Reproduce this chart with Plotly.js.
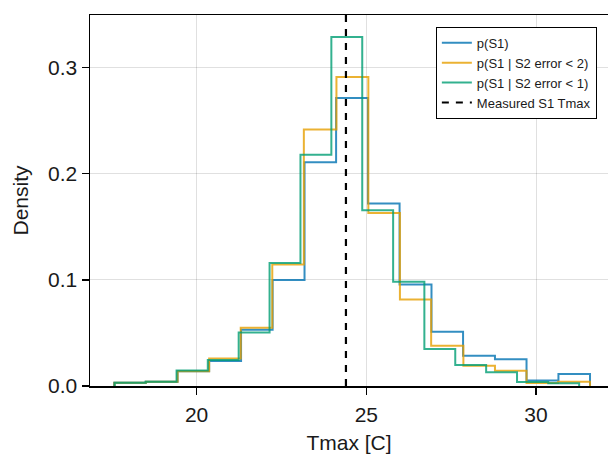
<!DOCTYPE html>
<html>
<head>
<meta charset="utf-8">
<script src="https://cdn.plot.ly/plotly-3.0.1.min.js"></script>
<style>
  html, body { margin: 0; padding: 0; background: #ffffff; overflow: hidden; }
  #chart { width: 608px; height: 456px; }
</style>
</head>
<body>
<div id="chart"></div>
<script>
// Histogram bin edges (Tmax, °C) for each sample set
const edgesS1 = [17.57, 18.50, 19.44, 20.37, 21.31, 22.24, 23.18, 24.11, 25.05, 25.98, 26.92, 27.85, 28.79, 29.72, 30.66, 31.59];
const edgesErr2 = [17.58, 18.51, 19.44, 20.37, 21.30, 22.23, 23.16, 24.12, 25.06, 25.99, 26.91, 27.86, 28.79, 29.72, 30.65, 31.59];
const edgesErr1 = [17.59, 18.50, 19.41, 20.33, 21.24, 22.15, 23.06, 23.97, 24.88, 25.79, 26.71, 27.62, 28.53, 29.44, 30.36, 31.27];

// Normalised densities per bin
const densityS1 = [0.003, 0.004, 0.014, 0.0235, 0.053, 0.100, 0.211, 0.2715, 0.172, 0.0957, 0.0512, 0.0286, 0.0251, 0.0053, 0.0113];
const densityErr2 = [0.003, 0.004, 0.014, 0.026, 0.055, 0.1146, 0.2417, 0.2913, 0.163, 0.0816, 0.038, 0.019, 0.0144, 0.0028, 0.004];
const densityErr1 = [0.003, 0.004, 0.0145, 0.0245, 0.0505, 0.116, 0.218, 0.329, 0.1657, 0.0982, 0.0348, 0.0198, 0.0129, 0.0038, 0.0025];

const seriesNames = ['p(S1)', 'p(S1 | S2 error < 2)', 'p(S1 | S2 error < 1)'];
const measuredTmax = 24.4;
const measuredName = 'Measured S1 Tmax';

const xTicks = [20, 25, 30];
const yTicks = [0, 0.1, 0.2, 0.3];
const yTickText = ['0.0', '0.1', '0.2', '0.3'];

const colors = ['rgba(0,114,178,0.8)', 'rgba(230,159,0,0.8)', 'rgba(0,158,115,0.8)'];

// Turn bin edges + densities into a closed step outline (hv line shape)
function stairs(edges, dens) {
  const x = [edges[0]];
  const y = [0];
  for (let i = 0; i < dens.length; i++) {
    x.push(edges[i]);
    y.push(dens[i]);
  }
  x.push(edges[edges.length - 1]);
  y.push(0);
  return { x, y };
}

const sets = [
  [edgesS1, densityS1],
  [edgesErr2, densityErr2],
  [edgesErr1, densityErr1]
];

const traces = sets.map(([e, d], i) => {
  const s = stairs(e, d);
  return {
    type: 'scatter',
    mode: 'lines',
    x: s.x,
    y: s.y,
    name: seriesNames[i],
    line: { shape: 'hv', color: colors[i], width: 2 },
    hoverinfo: 'skip'
  };
});

const gridColor = 'rgba(0,0,0,0.12)';

const layout = {
  width: 608,
  height: 456,
  margin: { l: 90, r: 0, t: 15, b: 70 },
  paper_bgcolor: '#ffffff',
  plot_bgcolor: '#ffffff',
  font: { family: 'Liberation Sans, Arial, Helvetica, sans-serif', size: 21, color: '#1a1a1a' },
  showlegend: true,
  xaxis: {
    range: [16.86, 32.12],
    tickvals: xTicks,
    showgrid: true,
    gridcolor: gridColor,
    gridwidth: 1,
    zeroline: false,
    showline: true,
    mirror: true,
    linecolor: '#000000',
    linewidth: 1.5,
    ticks: 'outside',
    ticklen: 7,
    tickwidth: 1.3,
    tickcolor: '#000000',
    ticklabelstandoff: 2,
    title: { text: 'Tmax [C]', font: { size: 21 }, standoff: 10 }
  },
  yaxis: {
    range: [0, 0.3497],
    tickvals: yTicks,
    ticktext: yTickText,
    showgrid: true,
    gridcolor: gridColor,
    gridwidth: 1,
    zeroline: false,
    showline: true,
    linecolor: '#000000',
    linewidth: 1.5,
    ticks: 'outside',
    ticklen: 7,
    tickwidth: 1.3,
    tickcolor: '#000000',
    title: { text: 'Density', font: { size: 21 }, standoff: 13 }
  },
  legend: {
    x: 0.9785,
    xanchor: 'right',
    y: 0.968,
    yanchor: 'top',
    bgcolor: '#ffffff',
    bordercolor: '#000000',
    borderwidth: 1,
    font: { size: 13, color: '#1a1a1a' },
    itemwidth: 30
  },
  shapes: [{
    type: 'line',
    xref: 'x',
    yref: 'y domain',
    x0: measuredTmax,
    x1: measuredTmax,
    y0: 0,
    y1: 1,
    line: { color: '#000000', width: 2.2, dash: '7px,7px' },
    name: measuredName,
    showlegend: true
  }]
};

Plotly.newPlot('chart', traces, layout, { displayModeBar: false, staticPlot: true });
</script>
</body>
</html>
